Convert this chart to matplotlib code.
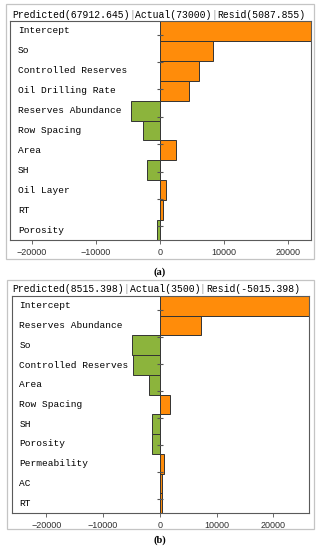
import matplotlib
matplotlib.use("Agg")
import matplotlib.pyplot as plt
from matplotlib.patches import Rectangle
import numpy as np

# panel (a)
features_a = ["Intercept", "So", "Controlled Reserves", "Oil Drilling Rate",
              "Reserves Abundance", "Row Spacing", "Area", "SH", "Oil Layer",
              "RT", "Porosity"]
values_a = [54800, 8260, 6130, 4520, -4460, -2650, 2450, -1960, 890, 470, -510]
title_a = ["Predicted(67912.645)", "Actual(73000)", "Resid(5087.855)"]

# panel (b)
features_b = ["Intercept", "Reserves Abundance", "So", "Controlled Reserves",
              "Area", "Row Spacing", "SH", "Porosity", "Permeability", "AC", "RT"]
values_b = [54800, 7160, -4930, -4700, -1990, 1760, -1410, -1290, 650, 470, 300]
title_b = ["Predicted(8515.398)", "Actual(3500)", "Resid(-5015.398)"]

xticks = [-20000, -10000, 0, 10000, 20000]

ORANGE = "#ff8c0a"
GREEN = "#8cb43c"
MONO = "Liberation Mono"

W, H = 319, 550
fig = plt.figure(figsize=(W / 100, H / 100), dpi=100)


def px_rect(x0, y0, x1, y1):
    # pixel box (top-left origin) -> figure fraction [l, b, w, h]
    return [x0 / W, 1 - y1 / H, (x1 - x0) / W, (y1 - y0) / H]


def draw_panel(features, values, titles, ax_box, frame_box, title_y, xlim, letter, letter_y):
    # light gray outer frame
    l, b, w, h = px_rect(*frame_box)
    fig.patches.append(Rectangle((l, b), w, h, transform=fig.transFigure,
                                 fill=False, edgecolor="#c4c4c4", linewidth=0.9))

    ax = fig.add_axes(px_rect(*ax_box))
    n = len(features)
    y = np.arange(n)
    colors = [ORANGE if v >= 0 else GREEN for v in values]
    ax.barh(y, values, height=1.0, color=colors, edgecolor="#333333", linewidth=0.7)
    ax.set_ylim(n - 0.5, -0.5)
    ax.set_xlim(*xlim)
    ax.set_yticks([])
    ax.set_xticks(xticks)
    ax.tick_params(axis="x", labelsize=6.5, length=3, width=0.6, pad=3,
                   colors="#505050", labelcolor="#303030")
    for lab in ax.get_xticklabels():
        lab.set_family("Liberation Sans")
    for s in ax.spines.values():
        s.set_color("#5a5a5a")
        s.set_linewidth(0.8)

    for yi, name in zip(y, features):
        ax.text(0.026, yi, name, transform=ax.get_yaxis_transform(),
                ha="left", va="center", fontsize=6.8, family=MONO, color="black")

    # small tick marks along the zero line
    ax2 = ax.twinx()
    ax2.set_ylim(0, 8)
    ax2.set_yticks(np.arange(0.5, 8, 1.0))
    ax2.set_yticklabels([])
    ax2.spines["left"].set_position(("data", 0))
    ax2.spines["left"].set_color("none")
    ax2.spines["right"].set_visible(False)
    ax2.spines["top"].set_visible(False)
    ax2.spines["bottom"].set_visible(False)
    ax2.yaxis.set_ticks_position("left")
    ax2.tick_params(axis="y", direction="inout", length=4, width=0.8, colors="#555555")

    # title pieces with gray separators
    t = fig.text(12 / W, 1 - title_y / H, titles[0], ha="left", va="center",
                 fontsize=7, family=MONO, color="black")
    for piece in titles[1:]:
        sep = ax.annotate("|", xy=(1, 0.5), xycoords=t, xytext=(0, 0),
                          textcoords="offset points", ha="left", va="center",
                          fontsize=7, family=MONO, color="#9a9a9a", annotation_clip=False)
        t = ax.annotate(piece, xy=(1, 0.5), xycoords=sep, xytext=(0, 0),
                        textcoords="offset points", ha="left", va="center",
                        fontsize=7, family=MONO, color="black", annotation_clip=False)

    fig.text(160 / W, 1 - letter_y / H, letter, ha="center", va="center",
             fontsize=7.5, family="Liberation Serif", weight="bold")
    return ax


draw_panel(features_a, values_a, title_a, (10, 21, 310.7, 240), (6, 4, 314, 259),
           14.5, (-23400, 23500), "(a)", 272)
draw_panel(features_b, values_b, title_b, (11.5, 296, 308.7, 513), (7, 280, 314, 529),
           289, (-26100, 26200), "(b)", 540)

fig.savefig("out.png", dpi=100)
